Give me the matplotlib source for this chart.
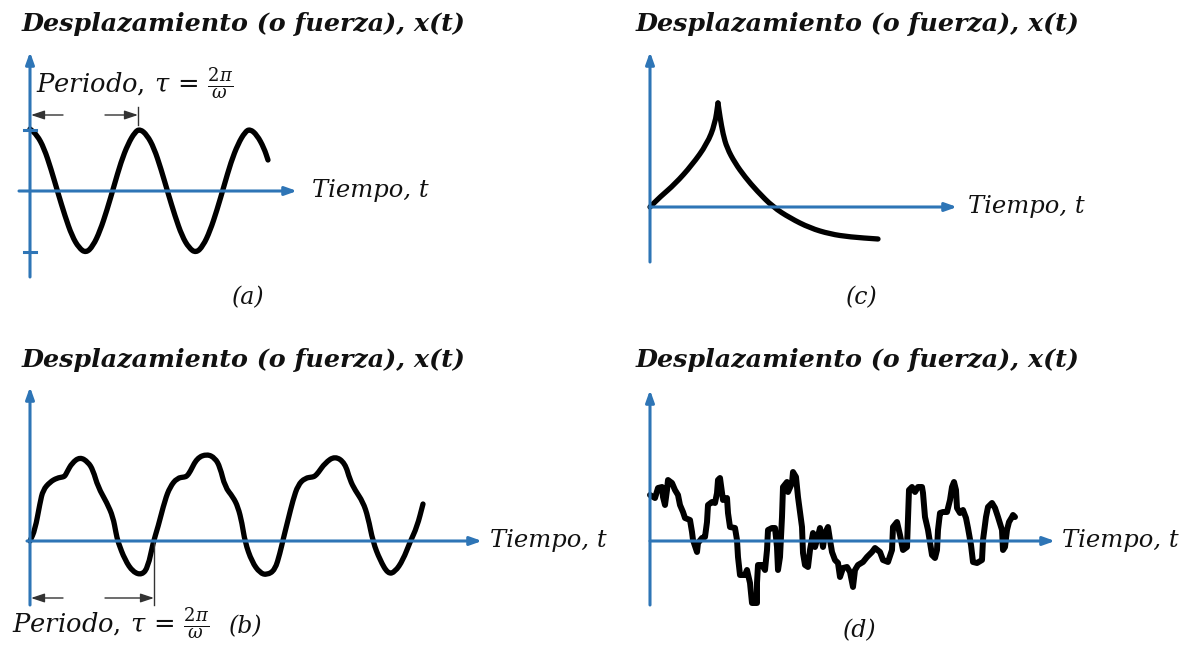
import matplotlib.pyplot as plt
from matplotlib.path import Path
from matplotlib.patches import PathPatch

plt.rcParams['mathtext.fontset'] = 'dejavuserif'

W, H = 1195, 652
BLUE = '#2e75b6'
INK = '#111111'

TITLE = 'Desplazamiento (o fuerza), x(t)'
TIME = 'Tiempo, t'
PERIOD = r'$Periodo,\,\tau\,=\,\frac{2\pi}{\omega}$'

# (a) harmonic motion
t_a = [0, 7, 14, 21, 28, 35, 42, 49, 56, 63, 70, 77, 84, 91, 98, 105,
       110, 117, 124, 131, 138, 145, 152, 159, 166, 173, 180, 187, 194, 201,
       208, 215, 220, 227, 234, 238]
x_a = [62, 56, 43, 22, -2, -25, -45, -57, -62, -55, -40, -19, 5, 29, 47, 59,
       62, 56, 43, 22, -2, -25, -45, -57, -62, -55, -40, -19, 5, 29,
       47, 59, 62, 56, 43, 31]

# (b) periodic, non-harmonic
t_b = [0, 5, 10, 13, 20, 27, 33, 35, 37, 42, 50, 58, 63, 68, 77, 83, 86,
       88, 95, 103, 112, 118, 123, 128, 135, 140, 147, 155, 157, 160, 167,
       177, 185, 190, 195, 203, 208, 212, 215, 222, 230, 237, 245, 250, 253,
       258, 263, 268, 275, 283, 285, 288, 295, 305, 315, 320, 325, 333, 338,
       343, 350, 358, 365, 373, 380, 387, 393]
x_b = [0, 11, 38, 51, 59, 63, 64, 65, 69, 78, 84, 79, 71, 54, 38, 24, 8,
       -1, -19, -31, -34, -26, -2, 14, 41, 54, 63, 64, 65, 69, 83,
       87, 83, 74, 54, 44, 34, 18, -1, -21, -32, -34, -29, -12, 1,
       21, 41, 56, 63, 64, 65, 68, 78, 85, 78, 61, 51, 39, 24,
       -1, -19, -33, -31, -19, -1, 14, 37]

# (c) transient: rise up to the peak, then decay
t_c_rise = [0, 10, 25, 42, 57, 65, 68]
x_c_rise = [0, 10, 23, 42, 63, 83, 104]
t_c_decay = [68, 70, 73, 77, 85, 95, 107, 123, 140, 160, 180, 200, 228]
x_c_decay = [104, 90, 73, 59, 44, 30, 16, 0, -11, -21, -27, -30, -32]

# (d) random
t_d = [0, 5, 8, 12, 13, 15, 17, 18, 22, 25, 28, 30, 33, 35, 40, 42, 43,
       47, 48, 52, 55, 57, 58, 62, 65, 67, 68, 70, 72, 73, 77, 78, 80, 85,
       87, 88, 90, 95, 97, 100, 102, 107, 107, 108, 112, 115, 117, 118,
       122, 125, 127, 128, 130, 132, 133, 137, 138, 142, 143, 146, 148,
       152, 153, 155, 158, 160, 163, 165, 167, 170, 173, 175, 178, 180,
       182, 185, 188, 190, 193, 197, 200, 203, 205, 208, 213, 217, 222,
       225, 230, 233, 238, 242, 243, 247, 250, 253, 257, 258, 259, 262,
       265, 268, 272, 273, 275, 278, 282, 285, 287, 288, 290, 293, 297,
       300, 302, 304, 306, 307, 310, 313, 316, 318, 321, 323, 327, 332,
       333, 336, 338, 342, 345, 348, 352, 353, 355, 357, 359, 362, 363, 365]
x_d = [46, 43, 53, 54, 44, 36, 51, 61, 58, 51, 46, 36, 29, 23, 21, 9, 1,
       -11, -2, 3, 4, 19, 36, 39, 38, 48, 61, 63, 48, 41, 43, 28, 14, 13,
       1, -16, -34, -34, -29, -42, -62, -62, -42, -24, -24, -29, -9, 11,
       13, 13, -6, -29, -16, 24, 54, 59, 49, 58, 69, 64, 44,
       14, -12, -24, -26, -9, 8, -6, 1, 13, -6, 8, 14, 1,
       -11, -19, -22, -36, -27, -26, -31, -46, -29, -24, -21, -16, -11,
       -7, -11, -19, -21, -9, 14, 19, 6, -9, -6, 24, 51, 54,
       49, 54, 54, 48, 24, 11, -14, -17, -9, 11, 28, 29, 29,
       41, 54, 59, 51, 33, 28, 31, 23, 13, -4, -21, -22, -19,
       1, 24, 34, 38, 33, 24, 11, -9, -6, 11, 19, 24, 26, 24]

fig = plt.figure(figsize=(W / 100, H / 100), dpi=100)


def panel(ox, oy):
    # one transparent axes per sketch, origin at pixel (ox, oy)
    ax = fig.add_axes([0, 0, 1, 1])
    ax.set_xlim(-ox, W - ox)
    ax.set_ylim(oy - H, oy)
    ax.axis('off')
    ax.patch.set_alpha(0)
    return ax


def smooth(ax, t, x, lw=3.8):
    # quadratic B-spline path using the sample points as control points
    pts = list(zip(t, x))
    mids = [((a[0] + b[0]) / 2, (a[1] + b[1]) / 2) for a, b in zip(pts, pts[1:])]
    verts = [pts[0], mids[0]]
    codes = [Path.MOVETO, Path.LINETO]
    for p, m in zip(pts[1:-1], mids[1:]):
        verts += [p, m]
        codes += [Path.CURVE3, Path.CURVE3]
    verts.append(pts[-1])
    codes.append(Path.LINETO)
    ax.add_patch(PathPatch(Path(verts, codes), fill=False, edgecolor='black',
                           lw=lw, joinstyle='round', capstyle='round'))


def axes_arrows(ax, x_lo, x_hi, y_lo, y_hi):
    style = dict(arrowstyle='-|>,head_length=0.7,head_width=0.25',
                 color=BLUE, lw=2.2, shrinkA=0, shrinkB=0)
    ax.annotate('', xy=(x_hi, 0), xytext=(x_lo, 0), arrowprops=style)
    ax.annotate('', xy=(0, y_hi), xytext=(0, y_lo), arrowprops=style)


def dim_arrow(ax, a, b, y):
    ax.annotate('', xy=(b, y), xytext=(a, y),
                arrowprops=dict(arrowstyle='-|>,head_length=0.9,head_width=0.3',
                                color='#333333', lw=1.0, shrinkA=0, shrinkB=0,
                                mutation_scale=9))


def title(ax, x, y):
    ax.text(x, y, TITLE, fontsize=18.3, family='DejaVu Serif',
            style='italic', weight='bold', color=INK, va='baseline')


def time_label(ax, x):
    ax.text(x, 0, TIME, fontsize=17.5, family='DejaVu Serif',
            style='italic', color=INK, va='center')


def tag(ax, s, x, y):
    ax.text(x, y, s, fontsize=17, family='DejaVu Serif',
            style='italic', color=INK, ha='center', va='baseline')


# (a)
ax = panel(30, 191)
axes_arrows(ax, -11, 267, -86, 139)
for v in (61, -61):
    ax.plot([-6, 6], [v, v], color=BLUE, lw=2.2)
smooth(ax, t_a, x_a)
dim_arrow(ax, 33, 1, 76)
dim_arrow(ax, 75, 108, 76)
ax.plot([108, 108], [66, 84], color='#333333', lw=1.0)
ax.text(6, 98, PERIOD, fontsize=18.5, color=INK, va='baseline')
title(ax, -8, 160)
time_label(ax, 282)
tag(ax, '(a)', 218, -113)

# (c)
ax = panel(650, 207)
axes_arrows(ax, 0, 307, -55, 155)
smooth(ax, t_c_rise, x_c_rise)
smooth(ax, t_c_decay, x_c_decay)
title(ax, -14, 176)
time_label(ax, 318)
tag(ax, '(c)', 212, -97)

# (b)
ax = panel(30, 541)
axes_arrows(ax, -3, 452, -64, 154)
smooth(ax, t_b, x_b)
ax.plot([124, 124], [0, -64], color='#333333', lw=1.0)
dim_arrow(ax, 33, 1, -57)
dim_arrow(ax, 75, 124, -57)
ax.text(-18, -92, PERIOD, fontsize=18.5, color=INK, va='baseline')
tag(ax, '(b)', 216, -92)
title(ax, -8, 174)
time_label(ax, 460)

# (d)
ax = panel(650, 541)
axes_arrows(ax, 0, 405, -64, 151)
ax.plot(t_d, x_d, color='black', lw=4.3, solid_joinstyle='round',
        solid_capstyle='round')
title(ax, -14, 174)
time_label(ax, 412)
tag(ax, '(d)', 210, -96)

fig.savefig('out.png', dpi=100, facecolor='white')
